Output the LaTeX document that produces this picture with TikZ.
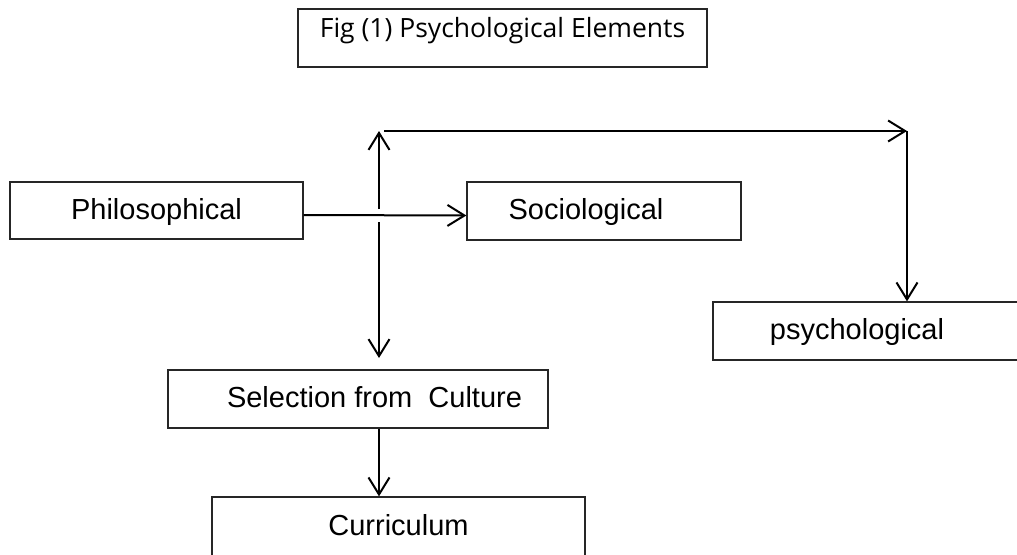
\documentclass[tikz,border=0pt]{standalone}
\usepackage{fontspec}
\setmainfont{Liberation Sans}
\newfontfamily\titlefont{Open Sans}
\usetikzlibrary{arrows.meta,calc}
\begin{document}
\begin{tikzpicture}[x=1pt,y=-1pt,
  box/.style={draw=black!85, line width=1.3pt, rectangle, inner sep=0pt,
    font=\fontsize{29}{34}\selectfont, text height=21pt, text depth=4pt},
  titlebox/.style={box, font=\titlefont\fontsize{26.5}{31}\selectfont, text height=18pt, text depth=20pt},
  arr/.style={line width=2pt, -{Straight Barb[length=17pt,width=21pt,line width=2pt]}}]
\useasboundingbox (0,0) rectangle (1017,554);
\fill[white] (0,0) rectangle (1017,554);
% boxes
\node[titlebox, minimum width=409pt, minimum height=58pt] (title) at (502.5,38) {Fig (1) Psychological Elements};
\node[box, minimum width=293pt, minimum height=57pt] (phil) at (156.5,210.5) {Philosophical};
\node[box, minimum width=274pt, minimum height=58pt] (soc) at (604,211) {Sociological\hspace*{36pt}};
\node[box, minimum width=307pt, minimum height=58pt] (psych) at (866.5,331) {psychological\hspace*{19pt}};
\node[box, minimum width=380pt, minimum height=58pt] (sel) at (358,399) {\hspace*{33pt}Selection from\ \ Culture};
\node[box, minimum width=373pt, minimum height=59pt] (cur) at (398.5,526.5) {Curriculum};
% junction points
\coordinate (cross) at (379,215);
\coordinate (topL) at (379,131);
\coordinate (topR) at (907,131);
\coordinate (botL) at (379,358);
% connectors
\draw[arr] ([yshift=-4.5pt]phil.east) -- ([yshift=-4.5pt]soc.west);
\draw[arr] ($(cross)+(0,-6)$) -- (topL);
\draw[arr] ($(cross)+(0,7)$) -- (botL);
\draw[arr] ($(topL)+(5,0)$) -- (topR);
\draw[arr] (topR) -- (topR |- psych.north);
\draw[arr] (sel.south -| cross) -- (cur.north -| cross);
\end{tikzpicture}
\end{document}
